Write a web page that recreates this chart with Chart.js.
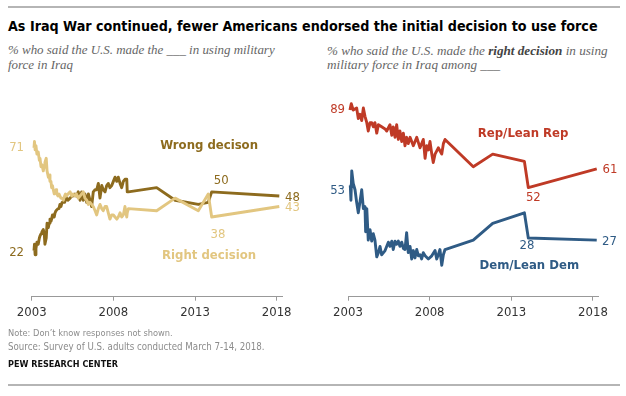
<!DOCTYPE html>
<html><head><meta charset="utf-8">
<script src="https://cdn.jsdelivr.net/npm/chart.js@4"></script>
<style>
html,body{margin:0;padding:0;background:#fff;}
body{width:626px;height:396px;position:relative;overflow:hidden;font-family:"Liberation Sans Narrow","DejaVu Sans Condensed","Liberation Sans",sans-serif;}
.rule{position:absolute;left:8px;width:612px;height:2px;background:#b5b5b5;}
.t{position:absolute;white-space:nowrap;line-height:1;margin:0;}
#title{left:8px;font-weight:bold;font-size:18px;color:#000;}
.sub{font-family:"Liberation Serif","DejaVu Serif",serif;font-style:italic;font-size:13px;color:#666;}
.sub b{font-weight:bold;color:#444;}
.foot{font-size:11px;color:#8c8c8c;left:8px;}
#pew{font-size:11px;font-weight:bold;color:#111;left:8px;}
canvas{position:absolute;top:0;}
</style></head>
<body>
<div class="rule" style="top:6px"></div>
<div class="t" id="title">As Iraq War continued, fewer Americans endorsed the initial decision to use force</div>
<div class="t sub" id="subL1" style="left:8px">% who said the U.S. made the ___ in using military</div>
<div class="t sub" id="subL2" style="left:8px">force in Iraq</div>
<div class="t sub" id="subR1" style="left:327px">% who said the U.S. made the <b>right decision</b> in using</div>
<div class="t sub" id="subR2" style="left:327px">military force in Iraq among ___</div>
<canvas id="cL" width="313" height="330" style="left:0"></canvas>
<canvas id="cR" width="313" height="330" style="left:313px"></canvas>
<div class="t foot" id="note">Note: Don’t know responses not shown.</div>
<div class="t foot" id="src">Source: Survey of U.S. adults conducted March 7-14, 2018.</div>
<div class="t" id="pew">PEW RESEARCH CENTER</div>
<div class="rule" style="top:384px"></div>
<script>
// ---------- DATA ----------
const tickYears = [2003, 2008, 2013, 2018];

const overallDates = [2003.14, 2003.17, 2003.21, 2003.26, 2003.32, 2003.40, 2003.47, 2003.51, 2003.57, 2003.63, 2003.71, 2003.77, 2003.81, 2003.89, 2003.94,
  2004.02, 2004.07, 2004.12, 2004.18, 2004.22, 2004.27, 2004.32, 2004.38, 2004.43, 2004.49, 2004.53, 2004.61, 2004.67, 2004.73, 2004.79, 2004.86, 2004.94,
  2005.01, 2005.07, 2005.14, 2005.22, 2005.35, 2005.45, 2005.53, 2005.65, 2005.74, 2005.85, 2005.96,
  2006.06, 2006.16, 2006.26, 2006.37, 2006.47, 2006.57, 2006.67, 2006.77, 2006.88, 2006.98,
  2007.08, 2007.18, 2007.29, 2007.38, 2007.49, 2007.59, 2007.69, 2007.79, 2007.90,
  2008.00, 2008.10, 2008.21, 2008.30, 2008.41, 2008.51, 2008.61, 2008.71, 2008.82, 2008.85, 2008.92,
  2010.65, 2011.78, 2013.20, 2013.81, 2014.02, 2018.16];

const rightDecision = [71, 74, 70, 72, 68, 69, 65, 66, 62, 63, 60, 62, 64, 66, 60,
  57, 58, 55, 55, 52, 53, 51, 49, 50, 51, 49, 48, 49, 48, 47, 47, 46,
  48, 49, 48, 49, 50, 48, 49, 48, 49, 47, 48,
  49, 50, 47, 46, 44, 45, 44, 43, 41, 39,
  42, 44, 42, 41, 43, 43, 40, 37, 39,
  39, 38, 37, 38, 40, 38, 39, 43, 38, 40, 42,
  41, 47, 41, 49, 38, 43];

const wrongDecision = [22, 25, 20, 23, 26, 25, 28, 29, 30, 31, 32, 30, 25, 28, 35,
  33, 35, 37, 36, 37, 39, 39, 38, 40, 41, 41, 42, 42, 44, 43, 45, 45,
  45, 46, 47, 46, 47, 48, 48, 49, 48, 50, 46,
  50, 46, 49, 45, 49, 46, 43, 50, 51, 51,
  54, 47, 53, 51, 50, 53, 54, 52, 53,
  55, 57, 55, 57, 54, 52, 55, 56, 56, 50, 50,
  52, 46, 44, 45, 50, 48];

const repDates = [2003.12, 2003.20, 2003.32, 2003.53, 2003.63, 2003.73, 2003.84, 2003.94,
  2004.04, 2004.15, 2004.24, 2004.35, 2004.45, 2004.55, 2004.65, 2004.76, 2004.86,
  2005.06, 2005.27, 2005.37, 2005.57, 2005.68, 2005.77, 2005.88, 2005.98,
  2006.08, 2006.18, 2006.29, 2006.39, 2006.49, 2006.59, 2006.69, 2006.80,
  2007.00, 2007.21, 2007.41, 2007.61, 2007.72, 2007.82, 2007.92,
  2008.02, 2008.13, 2008.22, 2008.33, 2008.53, 2008.74, 2008.84, 2008.94,
  2010.67, 2011.86, 2013.80, 2014.04, 2018.23];
const repRight = [89, 92, 89, 90, 85, 87, 84, 90,
  86, 83, 79, 83, 83, 81, 83, 78, 82,
  81, 80, 79, 82, 77, 81, 76, 82,
  75, 79, 74, 78, 72, 76, 73, 76,
  72, 76, 71, 75, 66, 72, 70,
  74, 68, 64, 68, 71, 68, 73, 75,
  62, 68, 64.5, 52, 61];

const demDates = [2003.14, 2003.18, 2003.23, 2003.32, 2003.43, 2003.53, 2003.63, 2003.73, 2003.84, 2003.94,
  2004.04, 2004.08, 2004.15, 2004.24, 2004.35, 2004.45, 2004.55, 2004.65, 2004.76, 2004.86, 2004.96,
  2005.06, 2005.27, 2005.47, 2005.57, 2005.68, 2005.77, 2005.88, 2005.98,
  2006.08, 2006.18, 2006.29, 2006.39, 2006.49, 2006.59, 2006.69, 2006.80, 2006.90,
  2007.00, 2007.10, 2007.21, 2007.31, 2007.41, 2007.51, 2007.61, 2007.72, 2007.92,
  2008.13, 2008.33, 2008.43, 2008.53, 2008.63, 2008.74, 2008.84, 2008.94,
  2010.67, 2011.86, 2013.80, 2014.04, 2018.23];
const demRight = [53, 46, 60, 54, 51, 45, 40, 45, 51, 42,
  43, 31, 42, 27, 32, 26.5, 30, 27, 19, 21, 24,
  20, 22, 26, 24, 26.5, 22.5, 26.5, 25,
  26.5, 24, 26, 23, 22.5, 30.5, 21, 24, 18,
  22, 18.5, 22.5, 19.5, 20, 18, 21, 19.5, 18,
  19.5, 22, 18, 20, 22.5, 15, 20, 22.5,
  27, 35, 40, 28, 27];

// ---------- STYLE ----------
const C = {wrong:'#8D6B1E', right:'#E2C680', rep:'#BF3A26', dem:'#2F5B85'};
const NUM = '13px "Liberation Sans Narrow","DejaVu Sans Condensed","Liberation Sans",sans-serif';
const BOLD = 'bold 13px "Liberation Sans Narrow","DejaVu Sans Condensed","Liberation Sans",sans-serif';

const toXY = (xs, ys) => xs.map((x, i) => ({x, y: ys[i]}));

const labelPlugin = {
  id: 'textLabels',
  afterDatasetsDraw(chart, args, opts) {
    const {ctx} = chart; const sx = chart.scales.x, sy = chart.scales.y;
    ctx.save();
    ctx.textBaseline = 'middle';
    for (const l of opts.items) {
      ctx.font = l.font; ctx.fillStyle = l.color; ctx.textAlign = l.align;
      ctx.fillText(l.text, sx.getPixelForValue(l.x), sy.getPixelForValue(l.y));
    }
    ctx.restore();
  }
};

function makeChart(id, datasets, padL, padR, items) {
  return new Chart(document.getElementById(id), {
    type: 'line',
    data: {datasets},
    plugins: [labelPlugin],
    options: {
      responsive: false, animation: false, devicePixelRatio: 1,
      layout: {padding: {left: padL, right: padR, top: 87, bottom: 0}},
      elements: {point: {radius: 0}, line: {tension: 0, borderWidth: 2.9, borderJoinStyle: 'round', borderCapStyle: 'butt'}},
      plugins: {legend: {display: false}, tooltip: {enabled: false}, textLabels: {items}},
      scales: {
        x: {
          type: 'linear', min: 2003, max: 2018.35,
          afterBuildTicks: s => { s.ticks = tickYears.map(v => ({value: v})); },
          afterFit: s => { s.height = 33.3; },
          grid: {drawOnChartArea: false, drawTicks: true, tickLength: 4, color: '#999', lineWidth: 1},
          border: {display: true, color: '#999', width: 1},
          ticks: {color: '#333', font: {family: '"Liberation Sans Narrow","DejaVu Sans Condensed","Liberation Sans",sans-serif', size: 13}, padding: 4, maxRotation: 0, autoSkip: false, callback: v => String(v)}
        },
        y: {display: false, min: 0, max: 100}
      }
    }
  });
}

makeChart('cL', [
  {data: toXY(overallDates, rightDecision), borderColor: C.right, clip: false},
  {data: toXY(overallDates, wrongDecision), borderColor: C.wrong, clip: false}
], 31.7, 30.6, [
  {text: '71', x: 2002.53, y: 71, align: 'right', color: C.right, font: NUM},
  {text: '22', x: 2002.53, y: 21.2, align: 'right', color: C.wrong, font: NUM},
  {text: 'Wrong decison', x: 2013.86, y: 72, align: 'center', color: C.wrong, font: BOLD},
  {text: 'Right decision', x: 2013.86, y: 19.6, align: 'center', color: C.right, font: BOLD},
  {text: '50', x: 2014.6, y: 55.2, align: 'center', color: C.wrong, font: NUM},
  {text: '38', x: 2014.41, y: 29.8, align: 'center', color: C.right, font: NUM},
  {text: '48', x: 2018.51, y: 47.4, align: 'left', color: C.wrong, font: NUM},
  {text: '43', x: 2018.51, y: 42.6, align: 'left', color: C.right, font: NUM}
]);

makeChart('cR', [
  {data: toXY(repDates, repRight), borderColor: C.rep, clip: false},
  {data: toXY(demDates, demRight), borderColor: C.dem, clip: false}
], 35, 27.3, [
  {text: '89', x: 2002.82, y: 89, align: 'right', color: C.rep, font: NUM},
  {text: '53', x: 2002.82, y: 50.5, align: 'right', color: C.dem, font: NUM},
  {text: 'Rep/Lean Rep', x: 2013.72, y: 77.9, align: 'center', color: C.rep, font: BOLD},
  {text: 'Dem/Lean Dem', x: 2014.1, y: 14.8, align: 'center', color: C.dem, font: BOLD},
  {text: '61', x: 2018.59, y: 60.4, align: 'left', color: C.rep, font: NUM},
  {text: '52', x: 2014.35, y: 47.4, align: 'center', color: C.rep, font: NUM},
  {text: '28', x: 2013.96, y: 24.2, align: 'center', color: C.dem, font: NUM},
  {text: '27', x: 2018.55, y: 26.2, align: 'left', color: C.dem, font: NUM}
]);

// ---------- TEXT LAYOUT ----------
function place(id, cy, targetW) {
  const el = document.getElementById(id);
  if (targetW) {
    const cur = parseFloat(getComputedStyle(el).fontSize);
    const w = el.getBoundingClientRect().width;
    el.style.fontSize = (cur * targetW / w) + 'px';
  }
  const fs = parseFloat(getComputedStyle(el).fontSize);
  el.style.top = (cy - fs * 0.5) + 'px';
  return fs;
}
place('title', 26.5, 590);
const fsL = place('subL1', 50.5, 267);
document.getElementById('subL2').style.fontSize = fsL + 'px'; place('subL2', 65);
const fsR = place('subR1', 50.5, 281);
document.getElementById('subR2').style.fontSize = fsR + 'px'; place('subR2', 65);
place('note', 333, 165);
place('src', 347, 257);
place('pew', 364.5, 110);
</script>
</body></html>
